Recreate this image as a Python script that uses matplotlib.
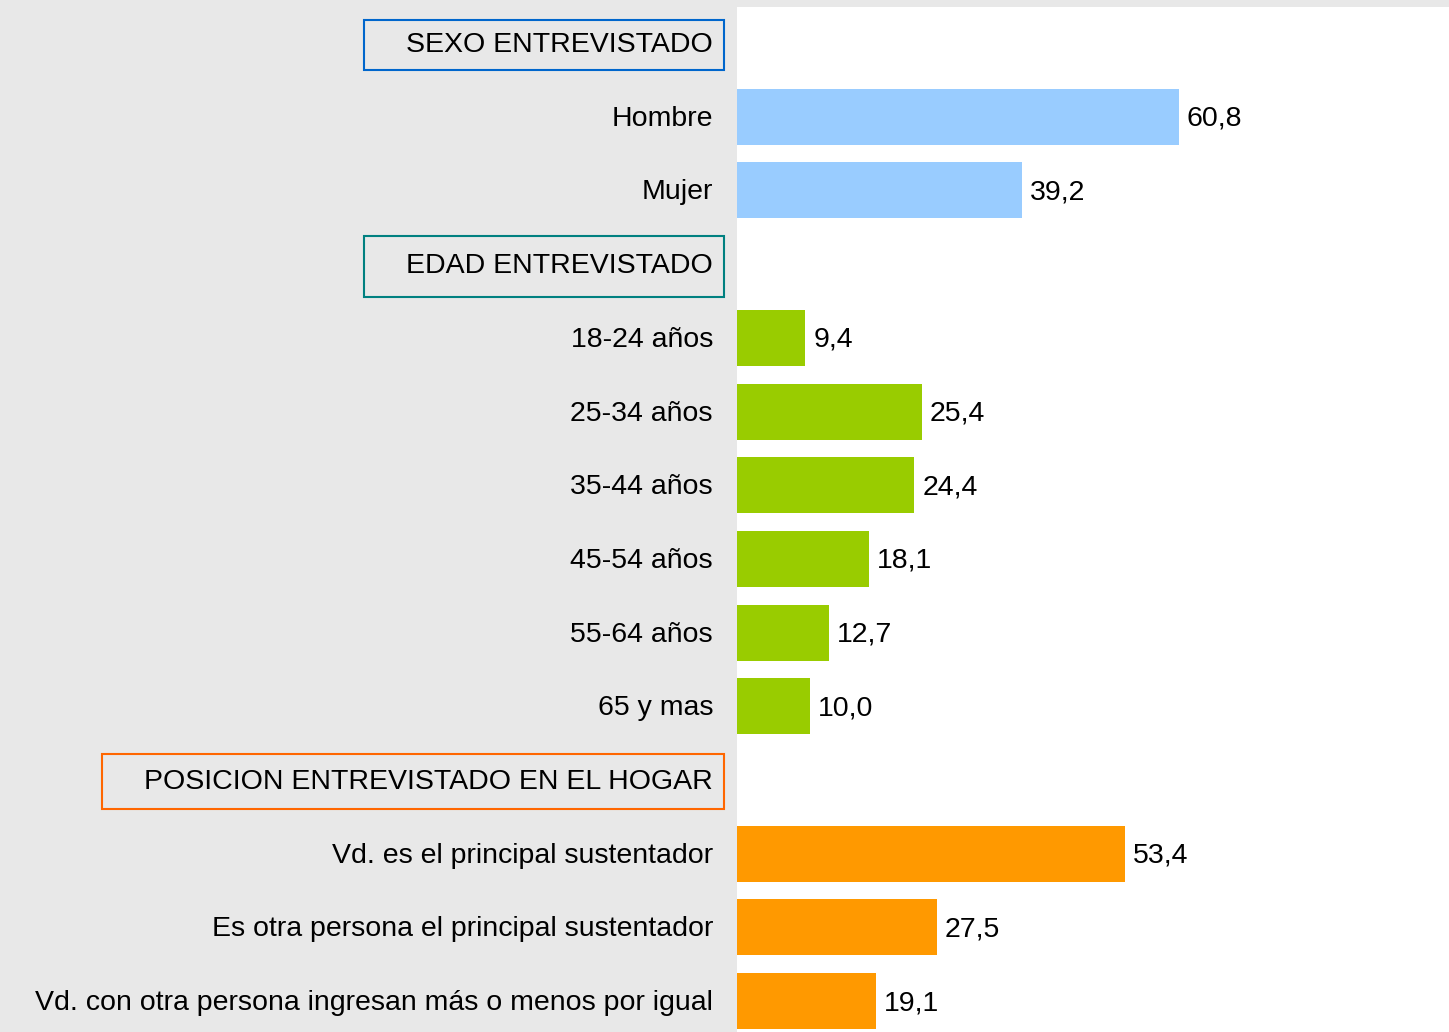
import matplotlib
matplotlib.use("Agg")
import matplotlib.pyplot as plt
from matplotlib.patches import Rectangle

plt.rcParams['font.family'] = ['Liberation Sans', 'DejaVu Sans']

# rows from top to bottom; None value = group header
labels = ['SEXO ENTREVISTADO', 'Hombre', 'Mujer',
          'EDAD ENTREVISTADO', '18-24 años', '25-34 años', '35-44 años',
          '45-54 años', '55-64 años', '65 y mas',
          'POSICION ENTREVISTADO EN EL HOGAR',
          'Vd. es el principal sustentador',
          'Es otra persona el principal sustentador',
          'Vd. con otra persona ingresan más o menos por igual']
values = [None, 60.8, 39.2,
          None, 9.4, 25.4, 24.4, 18.1, 12.7, 10.0,
          None, 53.4, 27.5, 19.1]
groups = [0, 0, 0, 1, 1, 1, 1, 1, 1, 1, 2, 2, 2, 2]

bar_colors = ['#99ccff', '#99cc00', '#ff9900']
box_colors = ['#0066cc', '#008080', '#ff6600']
box_heights = [50, 61, 55]

W, H = 1449, 1032
fig = plt.figure(figsize=(W / 100, H / 100), dpi=100, facecolor='#e8e8e8')
ax = fig.add_axes([737 / W, 0, (W - 737) / W, (H - 7) / H])
ax.set_facecolor('white')
for s in ax.spines.values():
    s.set_visible(False)
ax.set_xticks([])
ax.set_yticks([])
ax.set_xlim(0, 98)
ax.set_ylim(13.42, -0.49)

fs = 20.5
headers = []
for i, (lab, v, g) in enumerate(zip(labels, values, groups)):
    if v is not None:
        ax.barh(i, v, height=0.76, color=bar_colors[g])
        ax.annotate(f'{v:.1f}'.replace('.', ','), xy=(v, i), xytext=(8, -2),
                    textcoords='offset pixels', ha='left', va='center',
                    fontsize=fs, color='black')
    t = ax.annotate(lab, xy=(0, i), xytext=(-24, -2), textcoords='offset pixels',
                    ha='right', va='center', fontsize=fs, color='black',
                    annotation_clip=False)
    if v is None:
        headers.append((t, g))

fig.canvas.draw()
r = fig.canvas.get_renderer()
for t, g in headers:
    bb = t.get_window_extent(r)
    yc = (bb.y0 + bb.y1) / 2
    x0 = bb.x0 - 42
    x1 = 724
    h = box_heights[g]
    fig.patches.append(Rectangle((x0 / W, (yc - h / 2) / H), (x1 - x0) / W, h / H,
                                 transform=fig.transFigure, fill=False,
                                 edgecolor=box_colors[g], linewidth=1.5))

fig.savefig('out.png', dpi=100, facecolor=fig.get_facecolor())
